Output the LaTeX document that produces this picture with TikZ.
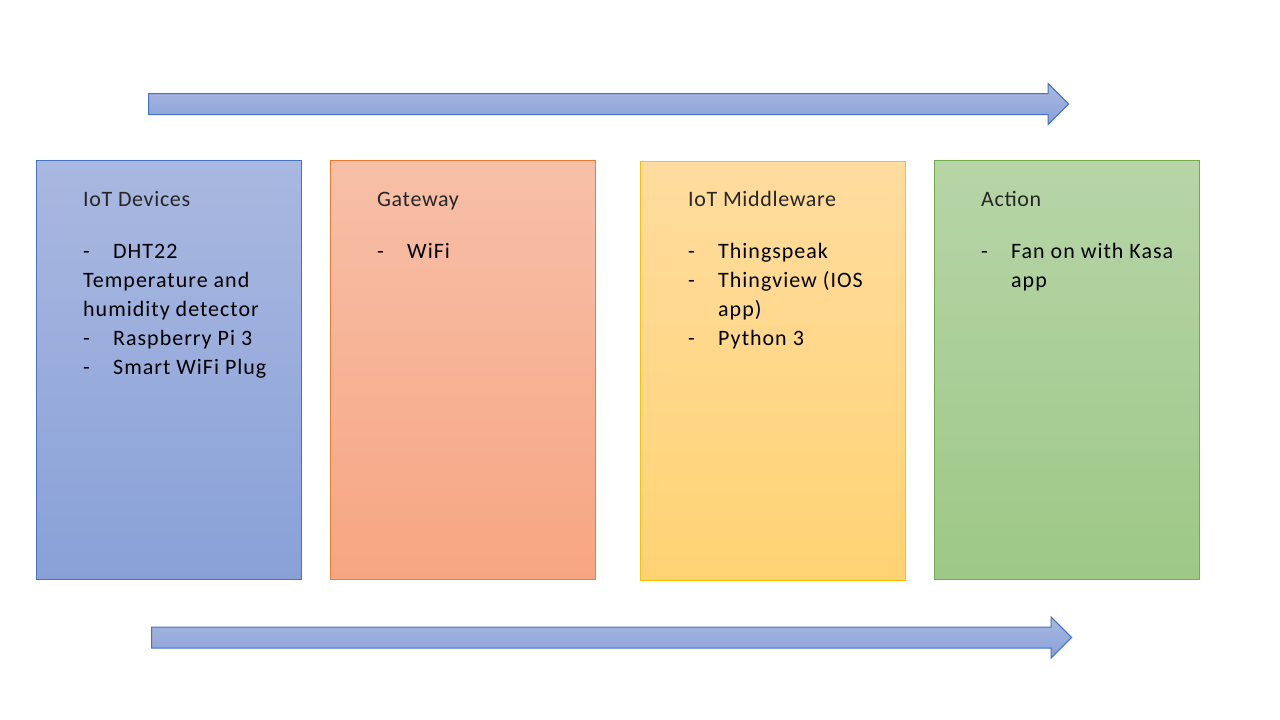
\documentclass[tikz,border=0pt]{standalone}
\usepackage{fontspec}
\setmainfont{Carlito}
\newfontfamily\itemfont[LetterSpace=4.5]{Carlito}
\newfontfamily\titlefont[LetterSpace=3]{Carlito}
\usetikzlibrary{shapes.arrows}
\definecolor{blueA}{HTML}{A9B8E0}
\definecolor{blueB}{HTML}{89A1D8}
\definecolor{blueE}{HTML}{4472C4}
\definecolor{orangeA}{HTML}{F7BFA8}
\definecolor{orangeB}{HTML}{F7A682}
\definecolor{orangeE}{HTML}{ED7D31}
\definecolor{yellowA}{HTML}{FFDC9F}
\definecolor{yellowB}{HTML}{FFD373}
\definecolor{yellowE}{HTML}{FFC000}
\definecolor{greenA}{HTML}{B7D5A8}
\definecolor{greenB}{HTML}{9DC886}
\definecolor{greenE}{HTML}{70AD47}
\newcommand{\bul}[1]{\makebox[30pt][l]{-}#1}
\tikzset{
  stage/.style={draw=#1E, line width=1pt, top color=#1A, bottom color=#1B,
    minimum width=265pt, minimum height=419pt, anchor=north west, inner sep=0pt},
  flowarrow/.style={single arrow, draw=blueE, line width=1pt, top color=blueA, bottom color=blueB,
    minimum height=920pt, minimum width=40pt, single arrow head extend=10pt,
    inner sep=10pt, anchor=west},
  title/.style={anchor=base west, inner sep=0pt, font=\titlefont\fontsize{22}{26}\selectfont, text=black!85},
  item/.style={anchor=base west, inner sep=0pt, font=\itemfont\fontsize{22}{26}\selectfont}
}
\begin{document}
\begin{tikzpicture}[x=1pt,y=-1pt]
    \useasboundingbox (0,0) rectangle (1280,720);
    % arrows
    \node[flowarrow] (toparrow) at (148,104) {};
    \node[flowarrow] (botarrow) at (151,637.5) {};
    % stages
    \node[stage=blue] (dev) at (36,160) {};
    \node[stage=orange] (gw) at (330,160) {};
    \node[stage=yellow] (mw) at (640,161) {};
    \node[stage=green] (act) at (934,160) {};
    % IoT devices
    \node[title] (devt) at (83,206) {IoT Devices};
    \node[item] (dev1) at (83,258) {\bul{DHT22}};
    \node[item] (dev2) at (83,287) {Temperature and};
    \node[item] (dev3) at (83,316) {humidity detector};
    \node[item] (dev4) at (83,345) {\bul{Raspberry Pi 3}};
    \node[item] (dev5) at (83,374) {\bul{Smart WiFi Plug}};
    % gateway
    \node[title] (gwt) at (377,206) {Gateway};
    \node[item] (gw1) at (377,258) {\bul{WiFi}};
    % middleware
    \node[title] (mwt) at (688,206) {IoT Middleware};
    \node[item] (mw1) at (688,258) {\bul{Thingspeak}};
    \node[item] (mw2) at (688,287) {\bul{Thingview (IOS}};
    \node[item] (mw3) at (718,316) {app)};
    \node[item] (mw4) at (688,345) {\bul{Python 3}};
    % action
    \node[title] (actt) at (981,206) {Action};
    \node[item] (act1) at (981,258) {\bul{Fan on with Kasa}};
    \node[item] (act2) at (1011,287) {app};
\end{tikzpicture}
\end{document}
